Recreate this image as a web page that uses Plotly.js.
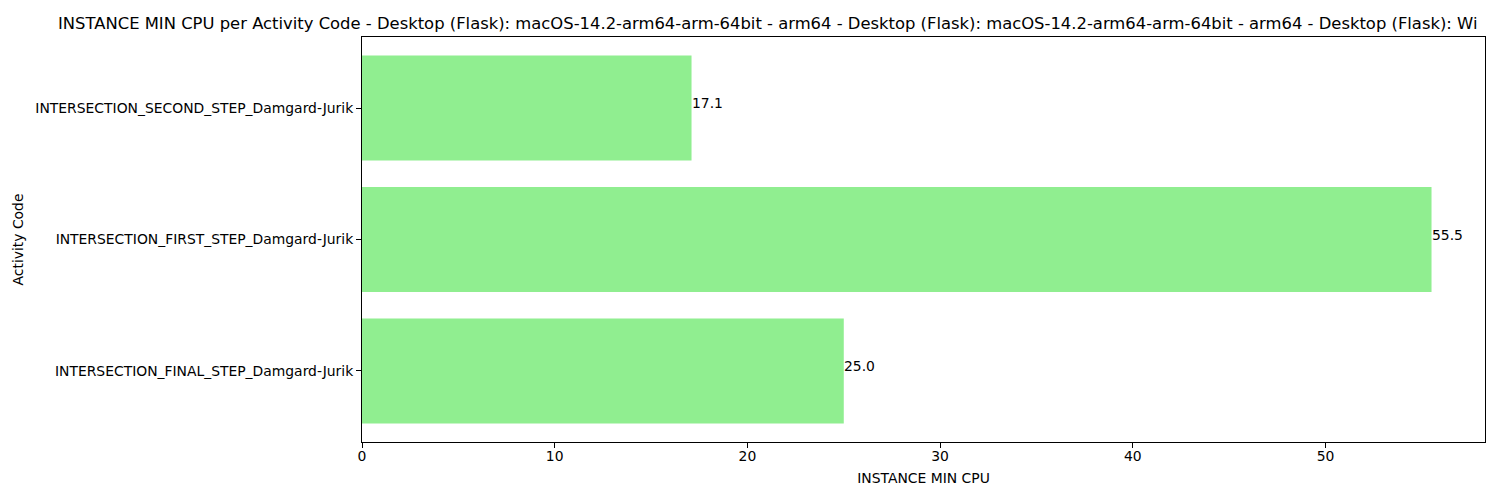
<!DOCTYPE html>
<html>
<head>
<meta charset="utf-8">
<script src="https://cdn.plot.ly/plotly-3.0.1.min.js"></script>
<style>html,body{margin:0;padding:0;background:#fff;}#chart{width:1500px;height:500px;}</style>
</head>
<body>
<div id="chart"></div>
<script>
const categories = [
  "INTERSECTION_FINAL_STEP_Damgard-Jurik",
  "INTERSECTION_FIRST_STEP_Damgard-Jurik",
  "INTERSECTION_SECOND_STEP_Damgard-Jurik"
];
const values = [25.0, 55.5, 17.1];
const xTicks = [0, 10, 20, 30, 40, 50];
const titleText = "INSTANCE MIN CPU per Activity Code - Desktop (Flask): macOS-14.2-arm64-arm-64bit - arm64 - Desktop (Flask): macOS-14.2-arm64-arm-64bit - arm64 - Desktop (Flask): Wi";

const font = {family: "DejaVu Sans", size: 13.9, color: "#000"};
const maxV = Math.max(...values);

const trace = {
  type: "bar",
  orientation: "h",
  x: values,
  y: [0, 1, 2],
  width: 0.8,
  marker: {color: "#90ee90", line: {width: 0}},
  hoverinfo: "x+y"
};

const annotations = values.map((v, i) => ({
  x: v, y: i, xref: "x", yref: "y",
  text: v.toFixed(1),
  showarrow: false,
  xanchor: "left", yanchor: "middle",
  xshift: -2, yshift: 5,
  font: font
}));

const layout = {
  width: 1500, height: 500,
  paper_bgcolor: "#fff", plot_bgcolor: "#fff",
  margin: {l: 362, r: 15, t: 37, b: 58, pad: 0},
  showlegend: false,
  font: font,
  title: {
    text: titleText,
    font: {family: "DejaVu Sans", size: 16.4, color: "#000"},
    x: 58 / 1500, xref: "container", xanchor: "left",
    y: 1 - 23 / 500, yref: "container", yanchor: "middle"
  },
  xaxis: {
    range: [0, maxV * 1.05],
    tickvals: xTicks,
    ticktext: xTicks.map(String),
    ticks: "outside", ticklen: 5, tickwidth: 1, tickcolor: "#000",
    ticklabelstandoff: -4,
    showline: true, linecolor: "#000", linewidth: 1, mirror: true,
    showgrid: false, zeroline: false,
    tickfont: font,
    title: {text: "INSTANCE MIN CPU", font: font, standoff: 10}
  },
  yaxis: {
    range: [-0.54, 2.54],
    tickvals: [0, 1, 2],
    ticktext: categories,
    ticks: "outside", ticklen: 5, tickwidth: 1, tickcolor: "#000",
    showline: true, linecolor: "#000", linewidth: 1, mirror: true,
    showgrid: false, zeroline: false,
    tickfont: font,
    title: {text: "Activity Code", font: font, standoff: 8}
  },
  annotations: annotations
};

Plotly.newPlot("chart", [trace], layout, {displayModeBar: false, staticPlot: true});
</script>
</body>
</html>
